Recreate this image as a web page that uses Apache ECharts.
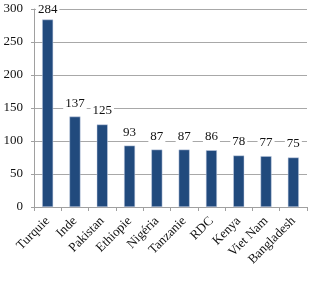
<!DOCTYPE html>
<html><head><meta charset="utf-8">
<script src="https://cdn.jsdelivr.net/npm/echarts@6/dist/echarts.min.js"></script>
<style>html,body{margin:0;padding:0;background:#fff}#c{width:321px;height:282px}</style>
</head><body><div id="c"></div>
<script>
const categories = ['Turquie','Inde','Pakistan','Ethiopie','Nigéria','Tanzanie','RDC','Kenya','Viet Nam','Bangladesh'];
const values = [284,137,125,93,87,87,86,78,77,75];
const yTicks = {min:0, max:300, interval:50};
const font = 'Liberation Serif';
const chart = echarts.init(document.getElementById('c'));
const seriesData = values.map(function(v, i){
  return i === 0 ? {value:v, label:{show:true, position:'top', offset:[0,4]}} : v;
});
chart.setOption({
  animation:false,
  grid:{left:34, right:14, top:9, bottom:75},
  xAxis:{type:'category', data:categories,
    axisLine:{lineStyle:{color:'#a0a0a0'}},
    axisTick:{show:true, length:4, alignWithLabel:false, lineStyle:{color:'#a0a0a0'}},
    axisLabel:{rotate:45, interval:0, color:'#111', fontFamily:font, fontSize:13, margin:12}
  },
  yAxis:{type:'value', min:yTicks.min, max:yTicks.max, interval:yTicks.interval,
    axisLine:{show:true, lineStyle:{color:'#a0a0a0'}},
    axisTick:{show:true, length:3, lineStyle:{color:'#a0a0a0'}},
    splitLine:{lineStyle:{color:'#a8a8a8'}},
    axisLabel:{color:'#111', fontFamily:font, fontSize:13, margin:11}
  },
  series:[{type:'bar', data:seriesData, barWidth:11,
    itemStyle:{color:'#214a7d', borderColor:'#c8d3e6', borderWidth:0.5},
    label:{show:true, position:'top', color:'#111', fontFamily:font, fontSize:13,
      backgroundColor:'#fff', padding:[1,2,0,2], distance:7}
  }]
});
</script></body></html>
